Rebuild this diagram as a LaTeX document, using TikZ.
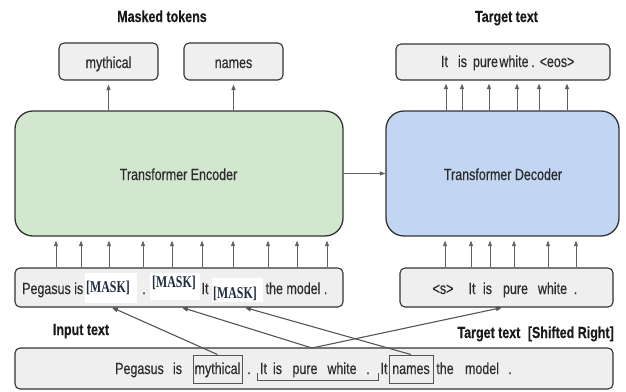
\documentclass[tikz,border=0pt]{standalone}
\usepackage{fontspec}
\setmainfont{Liberation Sans}[FakeStretch=0.78, FakeBold=0.35]
\newfontfamily\maskfont{Liberation Serif}[FakeStretch=0.72]
\usetikzlibrary{arrows.meta}
\definecolor{boxline}{HTML}{333333}
\definecolor{boxfill}{HTML}{EFEFEF}
\definecolor{encfill}{HTML}{D3E6CF}
\definecolor{decfill}{HTML}{C2D5F3}
\definecolor{innerline}{HTML}{555555}
\definecolor{txt}{HTML}{2C2C2C}
\definecolor{labcol}{HTML}{1A1A1A}
\definecolor{maskcol}{HTML}{1F2A44}
\definecolor{arrcol}{HTML}{606060}
\definecolor{crosscol}{HTML}{555555}
\tikzset{
 box/.style={draw=boxline, line width=1.1pt, fill=boxfill, rounded corners=5pt, inner sep=0pt},
 bigbox/.style={draw=boxline, line width=1.3pt, rounded corners=18pt, inner sep=0pt},
 innerbox/.style={draw=innerline, line width=0.9pt, inner sep=0pt},
 maskbg/.style={fill=white, inner sep=0pt},
 tok/.style={anchor=base, inner sep=0pt, text=txt, font=\fontsize{16}{18}\selectfont},
 lab/.style={anchor=base, inner sep=0pt, text=labcol, font=\fontsize{16}{18}\selectfont\bfseries},
 mtok/.style={anchor=base west, inner sep=0pt, text=maskcol, font=\maskfont\fontsize{16.5}{18}\selectfont\bfseries},
 arr/.style={draw=arrcol, line width=0.9pt, -{Triangle[length=5.5pt,width=4pt]}},
 cross/.style={draw=crosscol, line width=1.1pt, -{Triangle[length=6pt,width=4.5pt]}},
 brack/.style={draw=innerline, line width=0.9pt},
}
\begin{document}
\begin{tikzpicture}[x=1pt,y=-1pt]
\useasboundingbox (0,0) rectangle (626,391);
% labels
\node[lab] (lmask) at (162,22) {Masked tokens};
\node[lab] (ltgt) at (506.5,22) {Target text};
\node[lab] (linp) at (81,335) {Input text};
\node[lab, anchor=base east] (lshift) at (614,338) {Target text\hspace{4pt} [Shifted Right]};
% top boxes
\node[box, minimum width=99pt, minimum height=37pt] (myth) at (108.5,61.5) {};
\node[tok] (tmyth) at (108.5,68) {mythical};
\node[box, minimum width=99pt, minimum height=37pt] (names) at (233.5,61.5) {};
\node[tok] (tnames) at (233.5,68) {names};
\node[box, minimum width=214pt, minimum height=36pt] (tgt) at (503,62) {};
\node[tok] (g1) at (444.5,67) {It};
\node[tok] (g2) at (462.5,67) {is};
\node[tok] (g3) at (485.5,67) {pure};
\node[tok] (g4) at (514,67) {white};
\node[tok] (g5) at (533,67) {.};
\node[tok] (g6) at (557,67) {<eos>};
% encoder / decoder
\node[bigbox, fill=encfill, minimum width=328pt, minimum height=125pt] (enc) at (179,173.5) {};
\node[tok] (tenc) at (178.5,180) {Transformer Encoder};
\node[bigbox, fill=decfill, minimum width=233pt, minimum height=125pt] (dec) at (502.5,173.5) {};
\node[tok] (tdec) at (503,180) {Transformer Decoder};
\draw[arr] (enc.east) -- (dec.west);
% encoder outputs
\draw[arr, shorten >=4pt] (108.5,0 |- enc.north) -- (myth.south);
\draw[arr, shorten >=4pt] (233.5,0 |- enc.north) -- (names.south);
\foreach \x in {446,462,489,517,539,567}
  \draw[arr, shorten >=3pt] (\x,0 |- dec.north) -- (\x,0 |- tgt.south);
% masked input box
\node[box, minimum width=328pt, minimum height=39pt] (inbox) at (179,287.5) {};
\node[maskbg, minimum width=52pt, minimum height=30pt] (m1) at (111,288) {};
\node[maskbg, minimum width=50pt, minimum height=27pt] (m2) at (175,286.5) {};
\node[maskbg, minimum width=51pt, minimum height=24pt] (m3) at (237.5,290) {};
\node[tok, anchor=base west] (i1) at (22,294) {Pegasus is};
\node[mtok] (k1) at (86,292) {[MASK]};
\node[tok] (i2) at (144,294) {.};
\node[mtok] (k2) at (152,287) {[MASK]};
\node[tok] (i3) at (205,294) {It};
\node[mtok] (k3) at (213,298) {[MASK]};
\node[tok] (i4) at (296.5,294) {the model .};
\foreach \x in {56,81,109,143,172,202,233,268,297,327}
  \draw[arr, shorten >=4pt] (\x,0 |- inbox.north) -- (\x,0 |- enc.south);
% decoder input box
\node[box, minimum width=213pt, minimum height=39pt] (decin) at (506.5,287.5) {};
\node[tok] (d1) at (443,294) {<s>};
\node[tok] (d2) at (472,294) {It};
\node[tok] (d3) at (487.5,294) {is};
\node[tok] (d4) at (515.5,294) {pure};
\node[tok] (d5) at (552.5,294) {white};
\node[tok] (d6) at (575.5,294) {.};
\foreach \x in {445,471,490,514,548,576}
  \draw[arr, shorten >=4pt] (\x,0 |- decin.north) -- (\x,0 |- dec.south);
% bottom box
\node[box, minimum width=598pt, minimum height=41pt] (bot) at (314,368.5) {};
\node[innerbox, minimum width=49pt, minimum height=28pt] (bmyth) at (217.5,369) {};
\node[innerbox, minimum width=44pt, minimum height=28pt] (bnames) at (411,369) {};
\node[tok] (b1) at (139.5,374) {Pegasus};
\node[tok] (b2) at (177.5,374) {is};
\node[tok] (b3) at (217.5,374) {mythical};
\node[tok] (b4) at (249,374) {.};
\node[tok] (b5) at (263.5,374) {It};
\node[tok] (b6) at (277.5,374) {is};
\node[tok] (b7) at (305,374) {pure};
\node[tok] (b8) at (342,374) {white};
\node[tok] (b9) at (368,374) {.};
\node[tok] (b10) at (384,374) {It};
\node[tok] (b11) at (411,374) {names};
\node[tok] (b12) at (445,374) {the};
\node[tok] (b13) at (482,374) {model};
\node[tok] (b14) at (510,374) {.};
\draw[brack] (257,373) -- (257,380) -- (378,380) -- (378,373);
\coordinate (brk) at (312,348);
% cross connectors
\draw[cross] (bmyth.north) -- (112,0 |- inbox.south);
\draw[cross] (brk) -- (182,0 |- inbox.south);
\draw[cross] (brk) -- (502,0 |- decin.south);
\draw[cross] (bnames.north) -- (245,0 |- inbox.south);
\end{tikzpicture}
\end{document}
